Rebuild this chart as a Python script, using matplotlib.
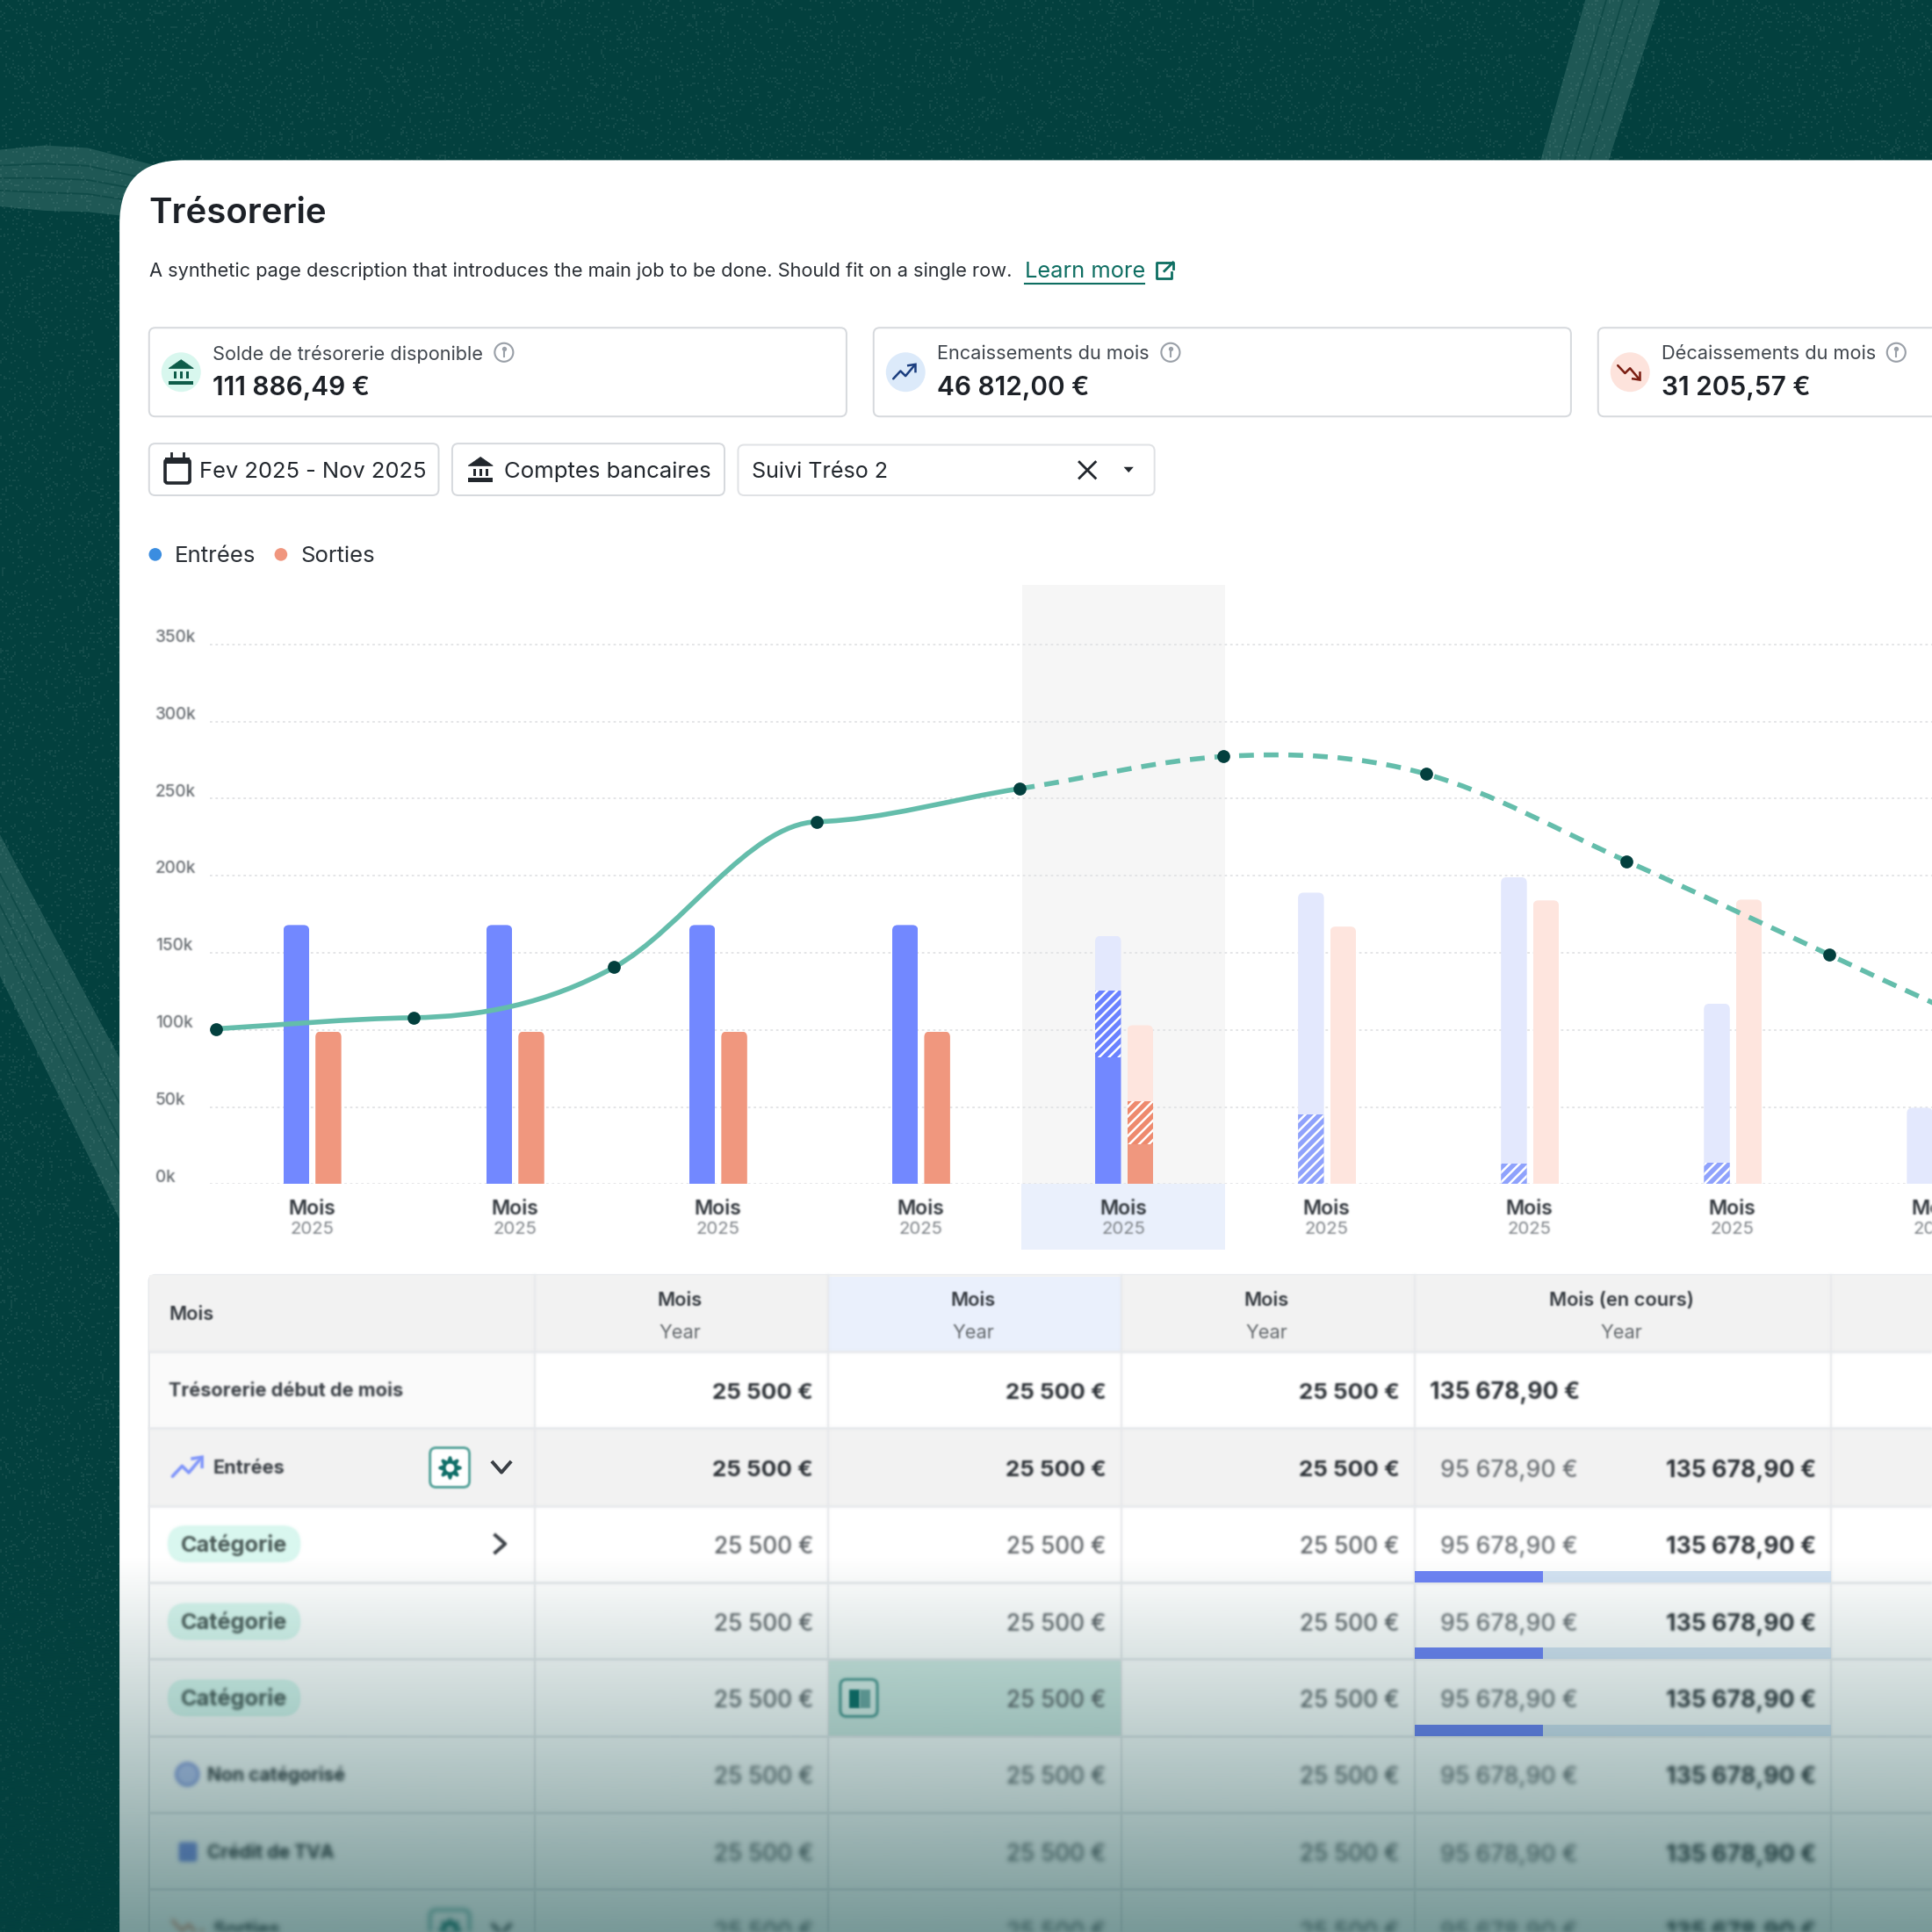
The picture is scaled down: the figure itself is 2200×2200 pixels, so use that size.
import numpy as np
import matplotlib
matplotlib.use('Agg')
import matplotlib.pyplot as plt
from matplotlib.patches import FancyBboxPatch, Circle, PathPatch, Polygon, Rectangle
from matplotlib.path import Path
from matplotlib.transforms import ScaledTranslation

plt.rcParams['font.family'] = ['Inter', 'DejaVu Sans']
plt.rcParams['hatch.linewidth'] = 0.9

# donnees du graphique (en k€)
mois = ['Mois'] * 9
annees = ['2025'] * 9
ticks_y = [0, 50, 100, 150, 200, 250, 300, 350]
ticks_y_labels = ['0k', '50k', '100k', '150k', '200k', '250k', '300k', '350k']

entrees_reel = [168, 168, 168, 168, 82, 0, 0, 0, 0]
entrees_hachure = [0, 0, 0, 0, 43.5, 45, 13.5, 14, 0]
entrees_prevu = [0, 0, 0, 0, 35.5, 144, 185.5, 103, 49.5]
sorties_reel = [99, 99, 99, 99, 26, 0, 0, 0, 0]
sorties_hachure = [0, 0, 0, 0, 27.5, 0, 0, 0, 0]
sorties_prevu = [0, 0, 0, 0, 49.5, 167, 184, 184.5, 0]

courbe_x = [-0.47, 0.5, 1.49, 2.49, 3.49, 4.49, 5.49, 6.48, 7.48, 8.48]
courbe_y = [100.7, 107.9, 140.6, 235, 256.5, 277.3, 266, 209.4, 148.6, 88]
courbe_pente = [8, 2, 72, 4, 20, 8, -37, -59, -62, -60]

# donnees du tableau
colonnes = ['Mois', 'Mois', 'Mois']
col_cours = 'Mois (en cours)'
val_col = '25 500 €'
val_debut = '135 678,90 €'
val_a = '95 678,90 €'
val_b = '135 678,90 €'
lignes = ['Trésorerie début de mois', 'Entrées', 'Catégorie', 'Catégorie', 'Catégorie',
          'Non catégorisé', 'Crédit de TVA', 'Sorties']

FOND = '#03403E'
U = 11 * 72 / 1568  # points par unite

fig = plt.figure(figsize=(11, 11), dpi=200, facecolor=FOND)
ax = fig.add_axes([0, 0, 1, 1])
ax.axis('off')


def flou(sigma):
    n = int(sigma * 3) + 1
    k = np.exp(-0.5 * (np.arange(-n, n + 1) / sigma) ** 2)
    k = k / k.sum()

    def lisse(a):
        for axe in (0, 1):
            b = np.zeros_like(a)
            for i, w in enumerate(k):
                b += w * np.roll(a, i - n, axis=axe)
            a = b
        return a

    def f(img, dpi):
        a = np.pad(img, ((n, n), (n, n), (0, 0)))
        alpha = a[:, :, 3:4]
        coul = lisse(a[:, :, :3] * alpha)
        alpha = lisse(alpha)
        coul = coul / np.maximum(alpha, 1e-4)
        return np.clip(np.dstack([coul, alpha]), 0, 1), -n, -n
    return f


def txt(x, y, s, size, color='#2A2F35', weight=400, ha='left', sigma=0, zorder=5):
    o = ax.text(x, y + 1.8, s, fontsize=size * U, color=color, fontweight=weight, ha=ha,
                va='center', zorder=zorder)
    if sigma:
        o.set_agg_filter(flou(sigma))
    return o


def boite(x0, y0, x1, y1, r=5, fc='white', ec='#D6D9DD', lw=1.4, zorder=2):
    p = FancyBboxPatch((x0, y0), x1 - x0, y1 - y0, boxstyle='round,pad=0,rounding_size=%g' % r,
                       fc=fc, ec=ec, lw=lw * U, zorder=zorder)
    ax.add_patch(p)
    return p


def icone_banque(cx, cy, s, color):
    ax.add_patch(Polygon([(cx - s, cy - s * 0.3), (cx, cy - s), (cx + s, cy - s * 0.3)], fc=color, ec=color, lw=0.3, zorder=4))
    for d in (-0.5, 0, 0.5):
        ax.add_patch(Rectangle((cx + d * s - s * 0.1, cy - s * 0.05), s * 0.2, s * 0.6, fc=color, ec='none', zorder=4))
    ax.add_patch(Rectangle((cx - s, cy + s * 0.7), 2 * s, s * 0.3, fc=color, ec='none', zorder=4))


def icone_tendance(cx, cy, s, color, signe=1, lw=1.8, f=0):
    xs = np.array([-1, -0.35, 0.1, 0.9]) * s + cx
    ys = np.array([0.6, -0.1, 0.35, -0.6]) * s * signe + cy
    l1, = ax.plot(xs, ys, color=color, lw=lw * U, solid_capstyle='round', solid_joinstyle='round', zorder=4)
    pointe = [(cx + 0.35 * s, cy - 0.6 * s * signe), (cx + s, cy - 0.7 * s * signe), (cx + s, cy - 0.05 * s * signe)]
    l2, = ax.plot(*zip(*pointe), color=color, lw=lw * U, solid_joinstyle='miter', zorder=4)
    if f:
        l1.set_agg_filter(flou(f))
        l2.set_agg_filter(flou(f))


def icone_info(cx, cy):
    ax.add_patch(Circle((cx, cy), 7.5, fc='none', ec='#9AA0A8', lw=1.5 * U, zorder=4))
    ax.plot([cx, cx], [cy - 0.5, cy + 3.5], color='#9AA0A8', lw=1.5 * U, zorder=4)
    ax.plot([cx], [cy - 3.2], 'o', color='#9AA0A8', ms=1.8 * U, zorder=4)


def icone_reglage(cy, sigma=0):
    b = boite(349, cy - 16, 381, cy + 16, r=5, fc='white', ec='#5FA8A0', lw=2.2, zorder=4)
    g, = ax.plot([365], [cy], marker=(8, 1, 0), ms=18 * U, color='#0F6E68', ls='', zorder=5)
    c, = ax.plot([365], [cy], 'o', ms=5 * U, color='white', zorder=6)
    if sigma:
        for o in (b, g, c):
            o.set_agg_filter(flou(sigma))


# ---- decor du fond : traces de pneu et grain
bandes = [([(-5, 122), (36, 118), (71, 120), (125, 134)], [(-5, 167), (36, 171), (71, 172), (125, 178)]),
          ([(1288, -5), (1249, 135)], [(1349, -5), (1304, 135)]),
          ([(-5, 668), (110, 883)], [(-5, 782), (110, 1016)])]
for haut, bas in bandes:
    ax.add_patch(Polygon(haut + bas[::-1], fc='#1F5855', ec='none', zorder=0.2))
    haut = np.array(haut, float)
    bas = np.array(bas, float)
    for t in (0.28, 0.5, 0.72):
        m = haut + t * (bas - haut)
        ax.plot(m[:, 0], m[:, 1], color='#104B48', lw=1.3 * U, zorder=0.3)

yy, xx = np.mgrid[0:1100, 0:1100]
hash_grain = np.sin(xx * 12.9898 + yy * 78.233) * 43758.5453
hash_grain = hash_grain - np.floor(hash_grain)
grain = np.ones((1100, 1100, 4))
grain[:, :, 3] = 0.07 * (hash_grain > 0.9)
ax.imshow(grain, extent=(0, 1568, 1568, 0), aspect='auto', zorder=0.5, interpolation='nearest')
ax.set_xlim(0, 1568)
ax.set_ylim(1568, 0)

# ---- panneau blanc
ax.add_patch(FancyBboxPatch((97, 130), 1800, 1800, boxstyle='round,pad=0,rounding_size=52', fc='white', ec='none', zorder=1))

txt(121, 172, 'Trésorerie', 28.6, '#1D2127', 600)
txt(121, 218, 'A synthetic page description that introduces the main job to be done. Should fit on a single row.', 15.55, '#2A2F35')
txt(832, 219, 'Learn more', 18.1, '#0E6E62')
ax.plot([832, 929], [230, 230], color='#0E6E62', lw=1.5 * U, zorder=5)
ax.plot([951, 951, 939, 939, 946], [221, 226, 226, 213, 213], color='#0E6E62', lw=2 * U, zorder=5)
ax.plot([945, 952], [220, 213], color='#0E6E62', lw=2 * U, zorder=5)
ax.plot([947, 952, 952], [213, 213, 218], color='#0E6E62', lw=2 * U, zorder=5)

# ---- cartes du haut
cartes = [(121, 687, 'Solde de trésorerie disponible', '111 886,49 €', '#D8F7EE', 409),
          (709, 1275, 'Encaissements du mois', '46 812,00 €', '#DCEAFA', 950),
          (1297, 1700, 'Décaissements du mois', '31 205,57 €', '#FDE3DC', 1539)]
for x0, x1, lib, val, col, xi in cartes:
    boite(x0, 266, x1, 338)
    ax.add_patch(Circle((x0 + 26, 302), 16, fc=col, ec='none', zorder=3))
    txt(x0 + 51.5, 285.5, lib, 15.5, '#41474E')
    txt(x0 + 51.5, 313, val, 21.3, '#1D2127', 600)
    icone_info(xi, 286)
icone_banque(147, 302, 10, '#0E5C49')
icone_tendance(734, 302, 9, '#1B3E7F')
icone_tendance(1322, 302, 9, '#7B1E12', signe=-1)

# ---- filtres
boite(121, 360, 356, 402)
boite(367, 360, 588, 402)
boite(599, 361, 937, 402, ec='#E0E2E5')
boite(134, 373, 154, 392, r=2, fc='white', ec='#22272D', lw=2.6, zorder=4)
ax.add_patch(Rectangle((134, 371), 20, 5, fc='#22272D', ec='none', zorder=4))
for xc in (139, 149):
    ax.plot([xc, xc], [368, 373], color='#22272D', lw=2 * U, zorder=4)
txt(162, 381, 'Fev 2025 - Nov 2025', 18.2, '#22272D')
icone_banque(390, 381, 10, '#22272D')
txt(409, 381, 'Comptes bancaires', 18.4, '#22272D')
txt(610, 381, 'Suivi Tréso 2', 17.9, '#22272D')
ax.plot([876, 889], [375, 388], color='#22272D', lw=2 * U, zorder=4)
ax.plot([876, 889], [388, 375], color='#22272D', lw=2 * U, zorder=4)
ax.add_patch(Polygon([(912, 379), (920, 379), (916, 383.5)], fc='#22272D', ec='none', zorder=4))

# ---- legende
ax.add_patch(Circle((126, 450), 5.2, fc='#3B8DE0', ec='none', zorder=4))
txt(142, 449.5, 'Entrées', 18.4, '#2A2F35')
ax.add_patch(Circle((228, 450), 5.2, fc='#F0967E', ec='none', zorder=4))
txt(244, 449.5, 'Sorties', 18.4, '#2A2F35')

# ---- graphique
ax.add_patch(Rectangle((829, 961), 165, 53, fc='#EAF0FC', ec='none', zorder=2))

PX_X = 164.7
PX_Y = 1.2514
X_GAUCHE = 170
X_DROITE = 1720
Y_HAUT = 475
g = fig.add_axes([X_GAUCHE / 1568, (1568 - 961) / 1568, (X_DROITE - X_GAUCHE) / 1568, (961 - Y_HAUT) / 1568])
g.patch.set_alpha(0)
g.set_xlim((X_GAUCHE - 253) / PX_X, (X_DROITE - 253) / PX_X)
g.set_ylim(0, (961 - Y_HAUT) / PX_Y)
for s in g.spines.values():
    s.set_visible(False)

g.axvspan(3.5, 4.5, color='#F6F6F6', lw=0, zorder=0)
g.set_yticks(ticks_y)
g.set_yticklabels(ticks_y_labels, ha='left', color='#6B7075', fontsize=13.5 * U, fontweight=500)
g.tick_params(axis='y', length=0, pad=(X_GAUCHE - 126) * U)
decale = ScaledTranslation(0, 7 * U / 72, fig.dpi_scale_trans)
for lab in g.get_yticklabels():
    lab.set_transform(lab.get_transform() + decale)
    lab.set_agg_filter(flou(0.8))
g.yaxis.grid(True, color='#E2E3E5', lw=1.3 * U, ls=(0, (1.5, 2)), zorder=1)
g.set_axisbelow(True)

g.set_xticks(range(len(mois)))
g.set_xticklabels(mois, color='#33383E', fontsize=16.4 * U, fontweight=600)
g.tick_params(axis='x', length=0, pad=12.3 * U)
for lab in g.get_xticklabels():
    lab.set_agg_filter(flou(0.9))
for i, a in enumerate(annees):
    tt = g.text(i, -36.5 / PX_Y, a, color='#7E8388', fontsize=14.5 * U, ha='center', va='center', clip_on=False)
    tt.set_agg_filter(flou(0.9))

LARGEUR = 21 / PX_X
COIN = 4.5 / PX_X
ASPECT = PX_X / PX_Y


def barres(positions, reel, hachure, prevu, c_reel, c_hach_actif, c_hach_futur, c_prevu):
    for i, x in enumerate(positions):
        segs = [(reel[i], c_reel, False), (hachure[i], c_hach_actif if reel[i] else c_hach_futur, True), (prevu[i], c_prevu, False)]
        bas = 0
        total = reel[i] + hachure[i] + prevu[i]
        if total == 0:
            continue
        clip = FancyBboxPatch((x - LARGEUR / 2, -30), LARGEUR, total + 30,
                              boxstyle='round,pad=0,rounding_size=%g' % COIN, mutation_aspect=ASPECT,
                              transform=g.transData, fc='none', ec='none')
        for h, c, hach in segs:
            if h:
                if hach:
                    rs = g.bar(x, h, LARGEUR, bottom=bas, color=c, hatch='//////', edgecolor='white', lw=0, zorder=2)
                else:
                    rs = g.bar(x, h, LARGEUR, bottom=bas, color=c, lw=0, zorder=2)
                rs[0].set_clip_path(clip)
                bas += h


idx = np.arange(len(mois))
barres(idx - 12.5 / PX_X, entrees_reel, entrees_hachure, entrees_prevu, '#7288FF', '#6A82FF', '#8FA2FC', '#E3E8FD')
barres(idx + 13.5 / PX_X, sorties_reel, sorties_hachure, sorties_prevu, '#F0977E', '#EE8A6E', '#F0977E', '#FEE5DE')


def trace_courbe(i0, i1):
    verts = [(courbe_x[i0], courbe_y[i0])]
    codes = [Path.MOVETO]
    for i in range(i0, i1):
        dx = courbe_x[i + 1] - courbe_x[i]
        verts.append((courbe_x[i] + dx / 3, courbe_y[i] + courbe_pente[i] * dx / 3))
        verts.append((courbe_x[i + 1] - dx / 3, courbe_y[i + 1] - courbe_pente[i + 1] * dx / 3))
        verts.append((courbe_x[i + 1], courbe_y[i + 1]))
        codes += [Path.CURVE4] * 3
    return Path(verts, codes)


TEAL = '#64BDAB'
g.add_patch(PathPatch(trace_courbe(0, 4), fc='none', ec=TEAL, lw=4 * U, zorder=3, capstyle='round'))
g.add_patch(PathPatch(trace_courbe(4, 9), fc='none', ec=TEAL, lw=4 * U, zorder=3, capstyle='butt', ls=(0, (12 / 4, 8 / 4))))
g.plot(courbe_x, courbe_y, 'o', color=FOND, ms=10.5 * U, mew=0, zorder=4, clip_on=False)

# ---- tableau
cols = [121, 434, 672, 910, 1148, 1486, 1700]
rangs = [1035, 1097, 1159, 1222, 1284, 1346, 1409, 1471, 1533, 1596]
centres = [1128, 1191, 1253, 1316, 1378, 1440, 1503, 1566]
flous = [1.1, 1.1, 1.2, 1.4, 1.7, 2.3, 2.7, 3.3]
TRAIT = '#E7E9EC'

boite(121, 1035, 1700, 1700, r=5, fc='white', ec=TRAIT, lw=1.8, zorder=2)
ax.add_patch(Rectangle((121, 1035), 1580, 62, fc='#F2F2F2', ec='none', zorder=2))
ax.add_patch(Rectangle((672, 1036), 238, 61, fc='#EAF0FC', ec='none', zorder=2))
ax.add_patch(Rectangle((122, 1097), 312, 62, fc='#FAFAFA', ec='none', zorder=2))
ax.add_patch(Rectangle((122, 1159), 1580, 63, fc='#F2F2F2', ec='none', zorder=2))
ax.add_patch(Rectangle((672, 1346), 238, 63, fc='#D0E8E2', ec='none', zorder=2))
for x in cols[1:-1]:
    o, = ax.plot([x, x], [1035, 1568], color=TRAIT, lw=1.5 * U, zorder=3)
    o.set_agg_filter(flou(1.0))
for y in rangs[1:-1]:
    o, = ax.plot([121, 1568], [y, y], color=TRAIT, lw=2 * U, zorder=3)
    o.set_agg_filter(flou(1.0))

txt(137, 1065, colonnes[0], 15.5, '#33383E', 600, sigma=0.9)
for x, nom in zip([552, 790, 1028], colonnes):
    txt(x, 1054, nom, 15.5, '#33383E', 600, ha='center', sigma=0.9)
    txt(x, 1080, 'Year', 15.5, '#63686C', ha='center', sigma=0.9)
txt(1316, 1054, col_cours, 15.5, '#33383E', 600, ha='center', sigma=0.9)
txt(1316, 1080, 'Year', 15.5, '#63686C', ha='center', sigma=0.9)

# colonne de gauche
txt(137, centres[0] - 1, lignes[0], 15.5, '#3A3F45', 700, sigma=flous[0])
icone_tendance(152, 1191, 12, '#7F95FB', lw=2.6, f=1.0)
txt(173, centres[1] - 1, lignes[1], 15.5, '#3A3F45', 700, sigma=flous[1])
icone_reglage(1191, 0.8)
ax.plot([400, 407, 414], [1187, 1195, 1187], color='#3A3F45', lw=2.8 * U, zorder=4)
for r in (2, 3, 4):
    p = boite(136, centres[r] - 15, 244, centres[r] + 15, r=15, fc='#D9F7EF', ec='none', zorder=4)
    p.set_agg_filter(flou(1.2))
    txt(147, centres[r] - 1, lignes[r], 18, '#4A5A57', 700, sigma=flous[r])
o, = ax.plot([402, 410, 402], [1246, 1253, 1260], color='#3A3F45', lw=2.8 * U, zorder=4)
o.set_agg_filter(flou(1.0))
c = Circle((152, 1440), 9, fc='#BAC6F2', ec='#8093DD', lw=1, zorder=4)
ax.add_patch(c)
c.set_agg_filter(flou(2.2))
txt(168, centres[5] - 1, lignes[5], 15, '#2E3338', 700, sigma=flous[5])
d = boite(145, 1495, 160, 1511, r=2, fc='#7F92E4', ec='none', zorder=4)
d.set_agg_filter(flou(2.4))
txt(168, centres[6] - 1, lignes[6], 15, '#2E3338', 700, sigma=flous[6])
icone_tendance(152, 1566, 12, '#E39680', signe=-1, lw=2.6, f=3.0)
txt(173, centres[7] - 1, lignes[7], 15.5, '#2E3338', 700, sigma=flous[7])
icone_reglage(1566, 3.0)
o, = ax.plot([400, 407, 414], [1562, 1570, 1562], color='#3A3F45', lw=2.8 * U, zorder=4)
o.set_agg_filter(flou(3.0))

# icone de la cellule survolee
boite(682, 1363, 712, 1393, r=5, fc='#DCEFEA', ec='#3F8F88', lw=2, zorder=4).set_agg_filter(flou(1.4))
d = Rectangle((689, 1371), 9, 15, fc='#0F6E68', ec='none', zorder=5)
ax.add_patch(d)
d.set_agg_filter(flou(1.2))
d = Rectangle((698, 1371), 8, 15, fc='#6FA7A2', ec='none', zorder=5)
ax.add_patch(d)
d.set_agg_filter(flou(1.2))

# valeurs
for r, y in enumerate(centres):
    fort = r < 2
    for x in (660, 898, 1136):
        txt(x, y + 0.7, val_col, 18.5 if fort else 18.6, '#2E3338' if fort else '#5F6468', 700 if fort else 500, ha='right', sigma=flous[r])
    if r == 0:
        txt(1160, y + 0.7, val_debut, 19.0, '#2E3338', 700, sigma=flous[r])
    else:
        txt(1169, y + 1, val_a, 19, '#6F7478', 500, sigma=flous[r])
        txt(1474, y + 1, val_b, 19, '#2E3338', 700, ha='right', sigma=flous[r])

# barres de progression
for r in (2, 3, 4):
    y1 = rangs[r + 2]
    ax.add_patch(Rectangle((1148, y1 - 9), 338, 9, fc='#D4E3F3', ec='none', zorder=4))
    ax.add_patch(Rectangle((1148, y1 - 9), 104, 9, fc='#6E83F5', ec='none', zorder=4))

# ---- degrade du bas
alpha = np.clip((np.linspace(1262, 1568, 300) - 1262) * 0.00175, 0, 1)
deg = np.zeros((300, 1, 4))
deg[:, 0, 0] = 3 / 255
deg[:, 0, 1] = 64 / 255
deg[:, 0, 2] = 62 / 255
deg[:, 0, 3] = alpha
ax.imshow(deg, extent=(0, 1568, 1568, 1262), aspect='auto', zorder=20, interpolation='bilinear')
ax.set_xlim(0, 1568)
ax.set_ylim(1568, 0)

fig.savefig('out.png', dpi=200, facecolor=FOND)
